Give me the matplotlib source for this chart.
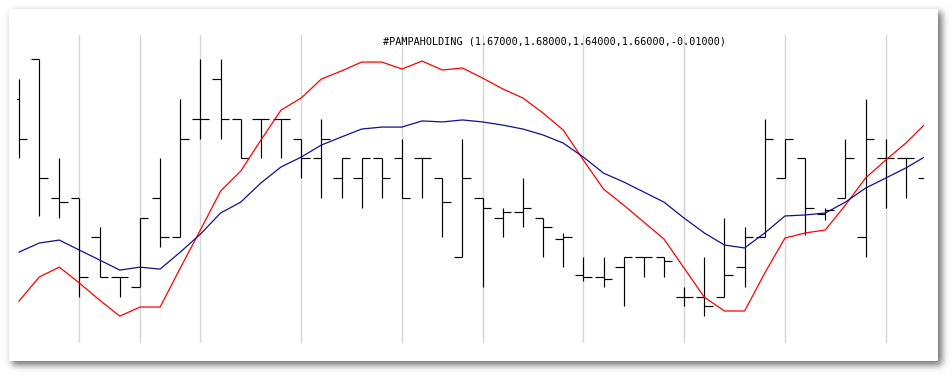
import numpy as np
import matplotlib
matplotlib.use("Agg")
import matplotlib.pyplot as plt

# ---------------- data ----------------
title = "#PAMPAHOLDING (1.67000,1.68000,1.64000,1.66000,-0.01000)"

opens = [1.70, 1.72, 1.65, 1.65, 1.63, 1.61, 1.605, 1.65, 1.63, 1.69,
         1.71, 1.69, 1.69, 1.69, 1.68, 1.67, 1.66, 1.66, 1.67, 1.67,
         1.67, 1.66, 1.62, 1.65, 1.64, 1.643, 1.64, 1.629, 1.611, 1.61,
         1.615, 1.62, 1.62, 1.60, 1.60, 1.60, 1.615, 1.63, 1.66, 1.67,
         1.642, 1.65, 1.63, 1.67, 1.67, 1.66]
highs = [1.71, 1.72, 1.67, 1.65, 1.635, 1.61, 1.64, 1.67, 1.70, 1.72,
         1.72, 1.69, 1.69, 1.69, 1.68, 1.69, 1.67, 1.67, 1.67, 1.68,
         1.67, 1.66, 1.68, 1.65, 1.645, 1.66, 1.64, 1.632, 1.62, 1.62,
         1.62, 1.62, 1.62, 1.605, 1.62, 1.64, 1.635, 1.69, 1.68, 1.67,
         1.645, 1.68, 1.70, 1.68, 1.67, 1.68]
lows = [1.67, 1.641, 1.64, 1.60, 1.61, 1.60, 1.605, 1.625, 1.63, 1.68,
        1.68, 1.67, 1.67, 1.67, 1.66, 1.65, 1.65, 1.645, 1.65, 1.65,
        1.65, 1.63, 1.62, 1.605, 1.63, 1.635, 1.62, 1.615, 1.608, 1.605,
        1.595, 1.61, 1.61, 1.595, 1.59, 1.60, 1.605, 1.63, 1.66, 1.631,
        1.639, 1.65, 1.62, 1.645, 1.65, 1.64]
closes = [1.68, 1.66, 1.648, 1.61, 1.61, 1.61, 1.64, 1.63, 1.68, 1.69,
          1.69, 1.67, 1.69, 1.69, 1.67, 1.68, 1.67, 1.67, 1.66, 1.65,
          1.67, 1.648, 1.66, 1.645, 1.643, 1.645, 1.635, 1.63, 1.61, 1.609,
          1.62, 1.62, 1.618, 1.60, 1.595, 1.611, 1.63, 1.68, 1.68, 1.645,
          1.644, 1.67, 1.68, 1.67, 1.67, 1.66]

red_line = [1.5977, 1.6099, 1.6149, 1.6068, 1.5982, 1.5901, 1.5947, 1.5947, 1.6144, 1.6337,
            1.6534, 1.6635, 1.6792, 1.6944, 1.7005, 1.7101, 1.7142, 1.7187, 1.7187, 1.7152,
            1.7192, 1.7147, 1.7157, 1.7106, 1.7051, 1.7005, 1.6929, 1.6843, 1.6691, 1.6544,
            1.6463, 1.6377, 1.6291, 1.6144, 1.5997, 1.5927, 1.5927, 1.6119, 1.6296, 1.6322,
            1.6337, 1.6463, 1.6600, 1.6691, 1.6777, 1.6878]
blue_line = [1.6225, 1.6271, 1.6286, 1.6235, 1.6185, 1.6134, 1.6149, 1.6139, 1.6225, 1.6316,
             1.6423, 1.6478, 1.6575, 1.6656, 1.6706, 1.6767, 1.6808, 1.6848, 1.6858, 1.6858,
             1.6889, 1.6884, 1.6894, 1.6884, 1.6868, 1.6848, 1.6818, 1.6777, 1.6706, 1.6625,
             1.6580, 1.6529, 1.6478, 1.6397, 1.6322, 1.6261, 1.6246, 1.6322, 1.6408, 1.6413,
             1.6423, 1.6478, 1.6549, 1.6600, 1.6651, 1.6711]

separators = [3, 6, 9, 14, 19, 23, 28, 33, 38, 43]

# ---------------- figure ----------------
W, H = 953, 376
fig = plt.figure(figsize=(W / 100, H / 100), dpi=100)
fig.patch.set_facecolor("white")

# drop-shadowed panel (decorative background image)
px0, py0, px1, py1 = 9, 9, 938, 361
mask = np.zeros((H, W))
mask[py0 + 3:py1 + 4, px0 + 3:px1 + 4] = 1.0
def blur1d(a, axis, sigma):
    r = int(3 * sigma)
    k = np.exp(-0.5 * (np.arange(-r, r + 1) / sigma) ** 2)
    k /= k.sum()
    return np.apply_along_axis(lambda v: np.convolve(v, k, mode="same"), axis, a)
sh = blur1d(blur1d(mask, 0, 3.5), 1, 3.5)
bg = 1.0 - 0.55 * sh
bg[py0:py1, px0:px1] = 1.0
img = np.dstack([bg, bg, bg])
fig.figimage(img, xo=0, yo=0, origin="upper", zorder=-10)

ax = fig.add_axes([17 / W, 1 - 343 / H, (924 - 17) / W, (343 - 35) / H])
ax.set_zorder(5)
ax.patch.set_alpha(0)
for s in ax.spines.values():
    s.set_visible(False)
ax.set_xticks([])
ax.set_yticks([])

x = np.arange(len(opens))
ax.set_xlim(-0.1, 44.9)
ax.set_ylim(1.5765, 1.7324)

for s in separators:
    ax.axvline(s, color="#d6d6d6", lw=1.0, zorder=1)

tw = 0.42
ax.vlines(x, lows, highs, color="black", lw=0.85, zorder=2)
ax.hlines(opens, x - tw, x, color="black", lw=0.85, zorder=2)
ax.hlines(closes, x, x + tw, color="black", lw=0.85, zorder=2)

ax.plot(x, red_line, color="#ff0000", lw=0.9, zorder=3)
ax.plot(x, blue_line, color="#101090", lw=0.9, zorder=3)

t = fig.text(383 / W, 1 - 41 / H, title, fontsize=7.3, family="DejaVu Sans Mono",
             ha="left", va="center", color="black")
t.set_zorder(10)

fig.savefig("out.png", dpi=100)
